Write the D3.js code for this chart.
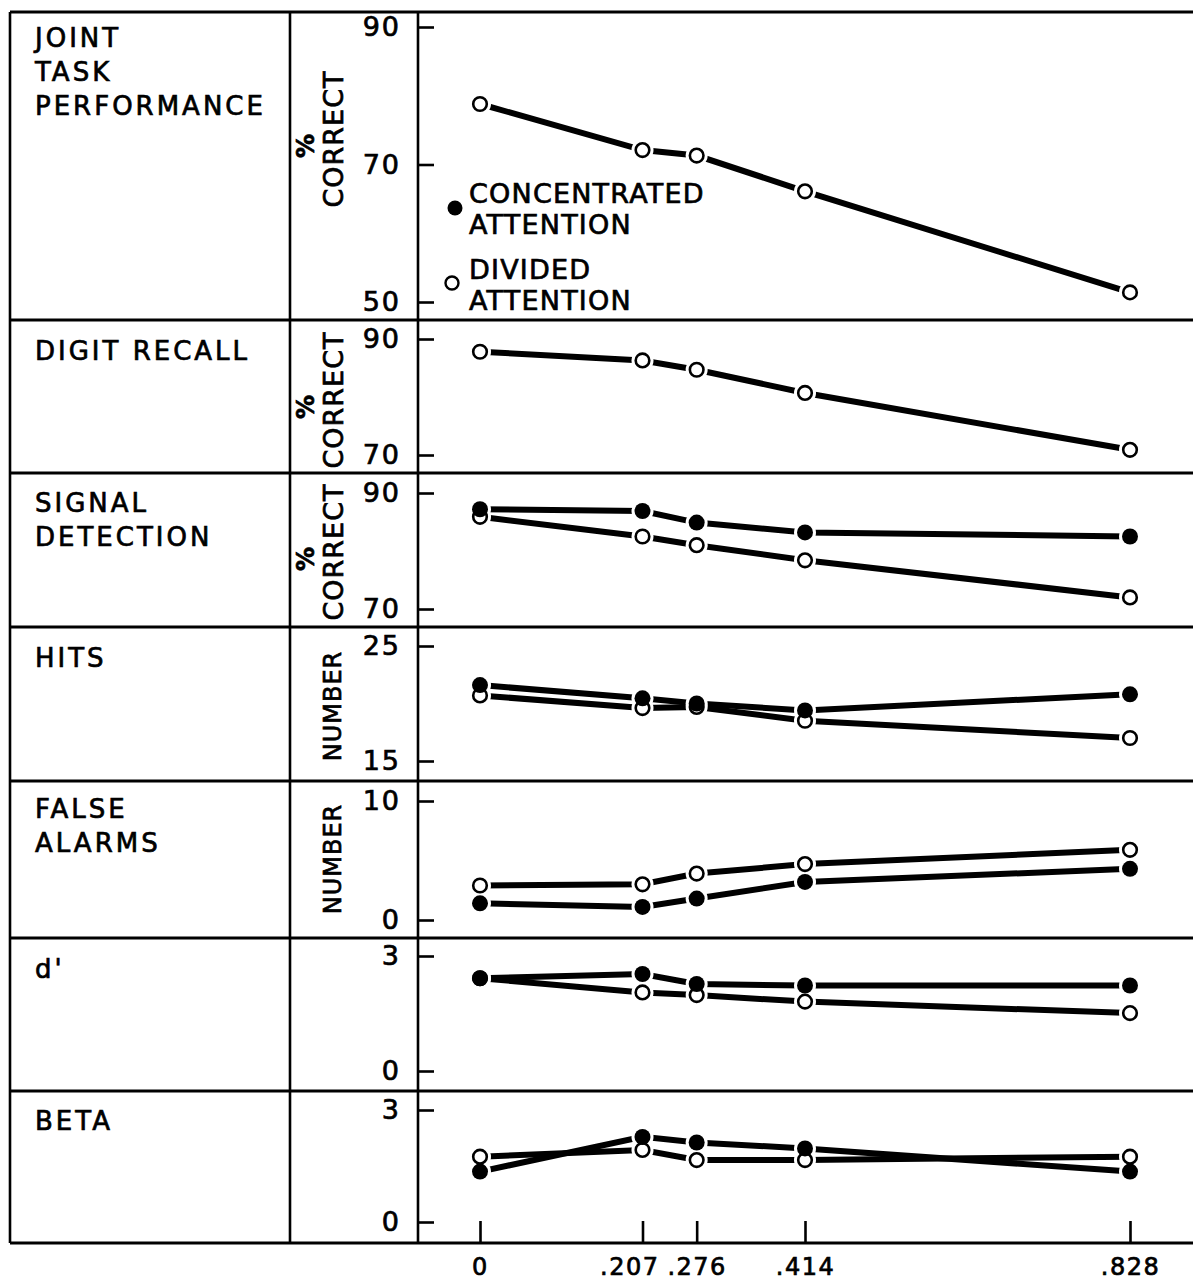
<!DOCTYPE html>
<html><head><meta charset="utf-8">
<script src="https://cdn.jsdelivr.net/npm/d3@7"></script>
<style>body{margin:0;background:#fff}svg{display:block}</style>
</head><body><svg id="c" width="1193" height="1282"></svg>
<script>
// ---------------- data ----------------
const xValues = [0, 0.207, 0.276, 0.414, 0.828];
const xTickLabels = ["0", ".207", ".276", ".414", ".828"];
const panelNames = [["JOINT","TASK","PERFORMANCE"],["DIGIT RECALL"],["SIGNAL","DETECTION"],["HITS"],["FALSE","ALARMS"],["d'"],["BETA"]];
const axisTitles = ["CORRECT","CORRECT","CORRECT","NUMBER","NUMBER","",""];
const axisTitlePrefix = ["%","%","%","","","",""];
const yDomains = [[50,90],[70,90],[70,90],[15,25],[0,10],[0,3],[0,3]];
const yTickValues = [[50,70,90],[70,90],[70,90],[15,25],[0,10],[0,3],[0,3]];
const concentrated = [
  null,
  null,
  [87.2, 86.9, 84.9, 83.2, 82.5],
  [21.6, 20.45, 20.0, 19.4, 20.8],
  [1.4, 1.1, 1.8, 3.2, 4.3],
  [2.42, 2.53, 2.27, 2.23, 2.23],
  [1.35, 2.28, 2.13, 1.97, 1.35]
];
const divided = [
  [78.8, 72.1, 71.3, 66.1, 51.4],
  [87.8, 86.3, 84.7, 80.7, 70.9],
  [85.9, 82.5, 81.0, 78.4, 72.0],
  [20.7, 19.6, 19.7, 18.5, 17.0],
  [2.9, 3.0, 3.9, 4.7, 5.9],
  [2.42, 2.05, 1.98, 1.81, 1.51],
  [1.75, 1.93, 1.66, 1.66, 1.75]
];
const legendLabels = [["CONCENTRATED","ATTENTION"],["DIVIDED","ATTENTION"]];
const legendFilled = [true, false];

// ---------------- layout ----------------
const FONT = "'DejaVu Sans', sans-serif";
const TS = 0.7; // text stroke to mimic lettering-guide weight
const left = 10, col1 = 290, axisX = 418, right = 1193;
const sepY = [12, 320, 473, 627, 781, 938, 1091, 1243];
const rangeY = [[302,27],[455,339],[609,493],[761,646],[920,801],[1071,956],[1222,1110]];
const labelTop = [47, 360, 512, 667, 818, 978, 1130];
const titleCY = [139, 400, 552, 706, 859, 0, 0];
const R = 8;

const svg = d3.select("#c");
svg.append("rect").attr("width",1193).attr("height",1282).attr("fill","#fff");

const x = d3.scaleLinear().domain([0, 0.828]).range([480, 1130]);

function styleText(sel, size, ls) {
  return sel.attr("font-family", FONT).attr("font-size", size).attr("letter-spacing", ls)
    .attr("fill","#000").attr("stroke","#000").attr("stroke-width", TS);
}

// grid / frame
const frame = svg.append("g").attr("stroke","#000").attr("fill","none");
sepY.forEach(y => frame.append("line").attr("x1",left).attr("x2",right).attr("y1",y).attr("y2",y).attr("stroke-width",3));
[left, col1, axisX].forEach(xx => frame.append("line").attr("x1",xx).attr("x2",xx).attr("y1",sepY[0]).attr("y2",sepY[sepY.length-1]).attr("stroke-width",2.6));

const ys = yDomains.map((d,i) => d3.scaleLinear().domain(d).range(rangeY[i]));

panelNames.forEach((names, i) => {
  // left labels
  names.forEach((t, k) => {
    styleText(svg.append("text").attr("x", 35).attr("y", labelTop[i] + k*34), 26, 3).text(t);
  });
  // y axis
  const g = svg.append("g").attr("transform", `translate(${axisX},0)`)
    .call(d3.axisLeft(ys[i]).tickValues(yTickValues[i]).tickFormat(d3.format("d"))
      .tickSizeInner(-16).tickSizeOuter(0).tickPadding(17));
  g.select(".domain").remove();
  g.selectAll(".tick line").attr("stroke","#000").attr("stroke-width",2.6);
  styleText(g.selectAll(".tick text"), 27, 2);
  // axis title
  if (axisTitles[i]) {
    const tg = svg.append("g").attr("transform", `translate(333,${titleCY[i]}) rotate(-90)`);
    styleText(tg.append("text").attr("text-anchor","middle").attr("dominant-baseline","central"),
      axisTitles[i]==="NUMBER"?24:27, 1).text(axisTitles[i]);
    if (axisTitlePrefix[i]) {
      styleText(tg.append("text").attr("x", -7).attr("y", -27).attr("text-anchor","middle")
        .attr("dominant-baseline","central"), 24, 0).attr("font-weight","bold").text(axisTitlePrefix[i]);
    }
  }
});

// series
const line = (i) => d3.line().x((d,k) => x(xValues[k])).y(d => ys[i](d));
const lineG = svg.append("g"), haloG = svg.append("g"), openG = svg.append("g"), fillG = svg.append("g");
panelNames.forEach((_, i) => {
  [divided[i], concentrated[i]].forEach((vals, s) => {
    if (!vals) return;
    lineG.append("path").datum(vals).attr("d", line(i)).attr("fill","none")
      .attr("stroke","#000").attr("stroke-width",6);
    haloG.selectAll(null).data(vals).enter().append("circle")
      .attr("cx",(d,k)=>x(xValues[k])).attr("cy",d=>ys[i](d)).attr("r",R+3).attr("fill","#fff");
    const mg = s === 0 ? openG : fillG;
    mg.selectAll(null).data(vals).enter().append("circle")
      .attr("cx",(d,k)=>x(xValues[k])).attr("cy",d=>ys[i](d)).attr("r", s===0 ? R-1.2 : R)
      .attr("fill", s===0 ? "#fff" : "#000").attr("stroke","#000").attr("stroke-width", s===0 ? 2.6 : 0);
  });
});

// legend
const legPos = [[455,208],[452,283]];
legendLabels.forEach((lines, i) => {
  svg.append("circle").attr("cx",legPos[i][0]).attr("cy",legPos[i][1]).attr("r", legendFilled[i]?R-0.5:R-1.5)
    .attr("fill", legendFilled[i] ? "#000" : "#fff").attr("stroke","#000").attr("stroke-width", legendFilled[i]?0:2.4);
  lines.forEach((t,k) => {
    styleText(svg.append("text").attr("x", 469).attr("y", (i===0?203:279) + k*31), 27, 1.2).text(t);
  });
});

// x axis
const xg = svg.append("g").attr("transform", `translate(0,${sepY[sepY.length-1]})`)
  .call(d3.axisBottom(x).tickValues(xValues).tickFormat((d,k)=>xTickLabels[k])
    .tickSizeInner(-22).tickSizeOuter(0).tickPadding(15));
xg.select(".domain").remove();
xg.selectAll(".tick line").attr("stroke","#000").attr("stroke-width",2.6);
const xt = styleText(xg.selectAll(".tick text"), 24, 1.5);
// nudge crowded labels leftwards so they do not collide (positions in global space)
const nodes = xt.nodes();
for (let k = nodes.length - 2; k >= 0; k--) {
  const a = nodes[k].getBBox(), b = nodes[k+1].getBBox();
  const aRight = x(xValues[k]) + a.x + a.width;
  const bLeft = x(xValues[k+1]) + b.x;
  const overlap = aRight - (bLeft - 8);
  if (overlap > 0) nodes[k].setAttribute("x", (+nodes[k].getAttribute("x") || 0) - overlap);
}
</script></body></html>
